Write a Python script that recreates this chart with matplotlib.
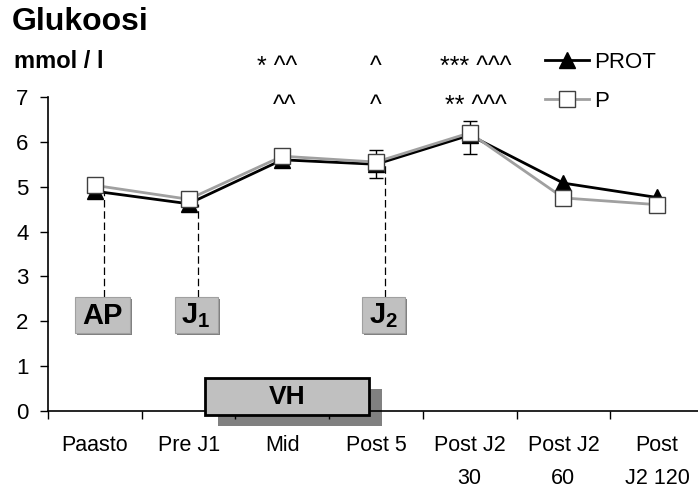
import numpy as np
import matplotlib.pyplot as plt
from matplotlib.patches import Rectangle

plt.rcParams['font.family'] = ['Liberation Sans', 'DejaVu Sans']
plt.rcParams['mathtext.fontset'] = 'custom'
plt.rcParams['mathtext.bf'] = 'Liberation Sans:bold'
plt.rcParams['mathtext.rm'] = 'Liberation Sans'

# data
kategoriat = ['Paasto', 'Pre J1', 'Mid', 'Post 5', 'Post J2\n30', 'Post J2\n60', 'Post\nJ2 120']
prot = [4.90, 4.62, 5.60, 5.50, 6.15, 5.08, 4.76]
p = [5.03, 4.72, 5.68, 5.55, 6.20, 4.75, 4.60]
virhe_idx = [3, 4]
virhe_ala = [0.30, 0.43]
virhe_yla = [0.31, 0.31]
merkit_1 = ['* ^^', '^', '*** ^^^']
merkit_2 = ['^^', '^', '** ^^^']
merkit_idx = [2, 3, 4]
laatikot = [(0, 'AP'), (1, r'$\mathbf{J}_{\mathbf{1}}$'), (3, r'$\mathbf{J}_{\mathbf{2}}$')]

x = np.arange(len(kategoriat))

fig = plt.figure(figsize=(6.98, 4.90), dpi=100)
ax = fig.add_axes([48/698, 79/490, 656/698, 314/490])

# viivat
ax.plot(x, prot, color='black', lw=2, marker='^', ms=11, mfc='black', mec='black', zorder=3, label='PROT')
ax.errorbar(x[virhe_idx], np.array(prot)[virhe_idx], yerr=[virhe_ala, virhe_yla],
            fmt='none', ecolor='black', elinewidth=1, capsize=5, capthick=1, zorder=2)
ax.plot(x, p, color='#a0a0a0', lw=2, marker='s', ms=11, mfc='white', mec='#404040', mew=1, zorder=4, label='P')

# pystyviivat ja laatikot
for i, teksti in laatikot:
    xi = i + 0.1
    ax.plot([xi, xi], [2.55, prot[i]], color='black', lw=0.9, ls=(0, (6, 3)), zorder=1)
    w = 0.59 if teksti == 'AP' else 0.46
    x0 = xi - w/2 - 0.02
    ax.add_patch(Rectangle((x0 + 0.025, 1.70), w, 0.80, facecolor='#808080', edgecolor='none', zorder=1))
    ax.add_patch(Rectangle((x0, 1.74), w, 0.80, facecolor='#c0c0c0', edgecolor='#a0a0a0', lw=0.8, zorder=2))
    ax.text(x0 + w/2, 2.12, teksti, ha='center', va='center', fontsize=21, fontweight='bold', zorder=3)

# VH laatikko
ax.add_patch(Rectangle((1.31, -0.34), 1.75, 0.82, facecolor='#808080', edgecolor='none', zorder=1, clip_on=False))
ax.add_patch(Rectangle((1.18, -0.09), 1.75, 0.82, facecolor='#c0c0c0', edgecolor='black', lw=2, zorder=5, clip_on=False))
ax.text(2.05, 0.32, 'VH', ha='center', va='center', fontsize=19, fontweight='bold', zorder=6)

# merkitsevyydet
siirto_1 = [-0.05, 0.0, 0.06]
siirto_2 = [0.03, 0.0, 0.07]
for j, i in enumerate(merkit_idx):
    ax.text(i + siirto_1[j], 7.66, merkit_1[j], ha='center', va='center', fontsize=18, clip_on=False)
    ax.text(i + siirto_2[j], 6.81, merkit_2[j], ha='center', va='center', fontsize=18, clip_on=False)

ax.set_xlim(-0.5, 6.5)
ax.set_ylim(0, 7)
ax.set_yticks(range(8))
ax.set_xticks(x)
ax.set_xticklabels(kategoriat, fontsize=15.5, linespacing=1.8)
ax.set_xticks(np.arange(-0.5, 7, 1), minor=True)
ax.tick_params(axis='x', which='major', length=0, pad=17)
ax.tick_params(axis='x', which='minor', length=6, width=1, direction='out')
ax.tick_params(axis='y', length=6, width=1, labelsize=16, pad=8)
for s in ['top', 'right']:
    ax.spines[s].set_visible(False)
ax.spines['left'].set_linewidth(1.2)
ax.spines['bottom'].set_linewidth(1.2)

ax.legend(loc='center left', bbox_to_anchor=(545/698, 1 - 82/490), bbox_transform=fig.transFigure,
          frameon=False, fontsize=16, handlelength=2.0, handletextpad=0.2, labelspacing=0.8,
          borderpad=0, borderaxespad=0)

fig.text(12/698, 1 - 22/490, 'Glukoosi', fontsize=23, fontweight='bold', va='center', ha='left')
fig.text(14/698, 1 - 62/490, 'mmol / l', fontsize=17, fontweight='bold', va='center', ha='left')

plt.savefig('out.png', dpi=100)
